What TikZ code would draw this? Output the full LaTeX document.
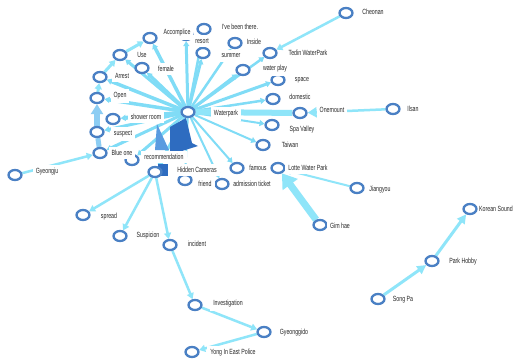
\documentclass[tikz,border=0pt]{standalone}
\usepackage{fontspec}
\newfontfamily\labfont{Liberation Sans}[FakeStretch=0.7]
\usetikzlibrary{arrows.meta,shapes.geometric}
\definecolor{edgec}{HTML}{8FE5F9}
\definecolor{edged}{HTML}{80DCF6}
\definecolor{edgeb}{HTML}{8CCDF3}
\definecolor{ringc}{HTML}{4A80C4}
\definecolor{wedged}{HTML}{2E6CC0}
\definecolor{wedgem}{HTML}{5A9BE0}
\pgfdeclarelayer{bg}
\pgfdeclarelayer{fg}
\pgfsetlayers{bg,main,fg}
\tikzset{
 ring/.style={ellipse, draw=ringc, line width=2.3pt, fill=white, minimum width=13pt, minimum height=10pt, inner sep=0pt},
 lab/.style={fill=white, inner xsep=3pt, inner ysep=3.5pt, font=\labfont\fontsize{7.5}{8}\selectfont, text=black!85},
 edge/.style={draw=edgec, line width=2.5pt, -{Triangle[length=6pt,width=7pt]}},
 spoke/.style={draw=edged, -{Triangle[length=5pt,width=6pt]}},
}
\begin{document}
\begin{tikzpicture}[x=1pt,y=-1pt]
\clip (0,0) rectangle (514,359);
% rings
\node[ring] (hub) at (188,112) {};
\node[ring] (cheonan) at (346,13) {};
\node[ring] (accomplice) at (150,38) {};
\node[ring] (ivebeen) at (204,29) {};
\node[ring] (resort) at (186,35) {};
\node[ring] (inside) at (235,43) {};
\node[ring] (summer) at (203,53) {};
\node[ring] (tedin) at (270,53) {};
\node[ring] (waterplay) at (243,70) {};
\node[ring] (space) at (278,80) {};
\node[ring] (domestic) at (273,99) {};
\node[ring] (onemount) at (300,113) {};
\node[ring] (ilsan) at (393,109) {};
\node[ring] (spavalley) at (272,125) {};
\node[ring] (taiwan) at (263,145) {};
\node[ring] (famous) at (237,168) {};
\node[ring] (lotte) at (278,168) {};
\node[ring] (admission) at (222,184) {};
\node[ring] (friend) at (185,180) {};
\node[ring] (hiddencam) at (155,172) {};
\node[ring] (recommendation) at (132,160) {};
\node[ring] (blueone) at (100,153) {};
\node[ring] (suspect) at (97,132) {};
\node[ring] (shower) at (113,119) {};
\node[ring] (open) at (97,98) {};
\node[ring] (arrest) at (100,77) {};
\node[ring] (use) at (120,55) {};
\node[ring] (female) at (142,68) {};
\node[ring] (gyeongju) at (15,175) {};
\node[ring] (spread) at (83,215) {};
\node[ring] (suspicion) at (120,236) {};
\node[ring] (incident) at (170,245) {};
\node[ring] (investigation) at (195,305) {};
\node[ring] (gyeonggido) at (264,332) {};
\node[ring] (yongin) at (192,352) {};
\node[ring] (jiangyou) at (357,188) {};
\node[ring] (gimhae) at (320,225) {};
\node[ring] (korean) at (470,209) {};
\node[ring] (parkhobby) at (432,261) {};
\node[ring] (songpa) at (378,299) {};
\begin{pgfonlayer}{bg}
\fill[white] (0,0) rectangle (514,359);
% spokes from the hub
\foreach \t/\w in {accomplice/3.5, resort/3, ivebeen/2.5, inside/2.5, summer/3, tedin/2.5, waterplay/3, space/3, domestic/2.5, spavalley/2, taiwan/2, famous/2, admission/2, friend/2, hiddencam/3, recommendation/3, female/3.5, use/3, arrest/3.5, open/3.5, shower/4, suspect/3, blueone/3}
  \draw[spoke, line width=\w pt] (hub) -- (\t);
\draw[edge] (cheonan) -- (tedin);
\draw[edge, -{Triangle[length=9pt,width=10pt]}] (ilsan) -- (onemount);
\draw[draw=edgec, line width=6pt] (onemount) -- (hub);
\draw[edge, line width=2pt] (jiangyou) -- (lotte);
\draw[draw=edgec, line width=7pt, -{Triangle[length=14pt,width=18pt]}] (gimhae) -- (lotte);
\draw[edge] (gyeongju) -- (blueone);
\draw[edge] (hiddencam) -- (spread);
\draw[edge] (hiddencam) -- (suspicion);
\draw[edge] (hiddencam) -- (incident);
\draw[edge] (incident) -- (investigation);
\draw[edge] (investigation) -- (gyeonggido);
\draw[edge] (gyeonggido) -- (yongin);
\draw[edge, line width=3pt, -{Triangle[length=9pt,width=9pt]}] (songpa) -- (parkhobby);
\draw[edge, line width=3pt, -{Triangle[length=9pt,width=9pt]}] (parkhobby) -- (korean);
\draw[draw=edgeb, line width=5pt] (blueone) -- (suspect);
\draw[draw=edgeb, line width=6pt, -{Triangle[length=10pt,width=12pt]}] (suspect) -- (open);
\draw[edge, line width=3pt] (open) -- (arrest);
\draw[edge, line width=3pt] (arrest) -- (use);
\draw[edge, line width=3pt] (use) -- (accomplice);
% wedges near the hub
\fill[wedgem] (157,124) -- (169,150) -- (155,150) -- cycle;
\fill[wedged] (170,127) -- (186,118) -- (192,143) -- (198,146) -- (182,151) -- (170,151) -- cycle;
\fill[wedged] (158,164) rectangle (168,176);
\end{pgfonlayer}
\begin{pgfonlayer}{fg}
\node[lab] (hub-l) at (226,114) {Waterpark};
\node[lab] (cheonan-l) at (373,12) {Cheonan};
\node[lab] (accomplice-l) at (177,33) {Accomplice};
\node[lab] (resort-l) at (202,41) {resort};
\node[lab] (ivebeen-l) at (240,27) {I've been there.};
\node[lab] (inside-l) at (254,42) {Inside};
\node[lab] (summer-l) at (231,56) {summer};
\node[lab] (tedin-l) at (308,53) {Tedin WaterPark};
\node[lab] (waterplay-l) at (275,69) {water play};
\node[lab] (space-l) at (302,80) {space};
\node[lab] (domestic-l) at (300,97) {domestic};
\node[lab] (onemount-l) at (332,110) {Onemount};
\node[lab] (ilsan-l) at (413,109) {Ilsan};
\node[lab] (spavalley-l) at (302,130) {Spa Valley};
\node[lab] (taiwan-l) at (290,145) {Taiwan};
\node[lab] (famous-l) at (258,168) {famous};
\node[lab] (lotte-l) at (308,168) {Lotte Water Park};
\node[lab] (admission-l) at (252,184) {admission ticket};
\node[lab] (friend-l) at (205,184) {friend};
\node[lab] (hiddencam-l) at (197,170) {Hidden Cameras};
\node[lab] (recommendation-l) at (164,157) {recommendation};
\node[lab] (blueone-l) at (122,153) {Blue one};
\node[lab] (suspect-l) at (123,134) {suspect};
\node[lab] (shower-l) at (146,117) {shower room};
\node[lab] (open-l) at (120,96) {Open};
\node[lab] (arrest-l) at (122,76) {Arrest};
\node[lab] (use-l) at (142,55) {Use};
\node[lab] (female-l) at (166,69) {female};
\node[lab] (gyeongju-l) at (47,172) {Gyeongju};
\node[lab] (spread-l) at (109,217) {spread};
\node[lab] (suspicion-l) at (148,236) {Suspicion};
\node[lab] (incident-l) at (197,244) {incident};
\node[lab] (investigation-l) at (228,304) {Investigation};
\node[lab] (gyeonggido-l) at (294,333) {Gyeonggido};
\node[lab] (yongin-l) at (233,353) {Yong In East Police};
\node[lab] (jiangyou-l) at (380,190) {Jiangyou};
\node[lab] (gimhae-l) at (340,226) {Gim hae};
\node[lab, anchor=west, inner xsep=1pt] (korean-l) at (478,209) {Korean Sound};
\node[lab] (parkhobby-l) at (463,262) {Park Hobby};
\node[lab] (songpa-l) at (403,300) {Song Pa};
\end{pgfonlayer}
\end{tikzpicture}
\end{document}
